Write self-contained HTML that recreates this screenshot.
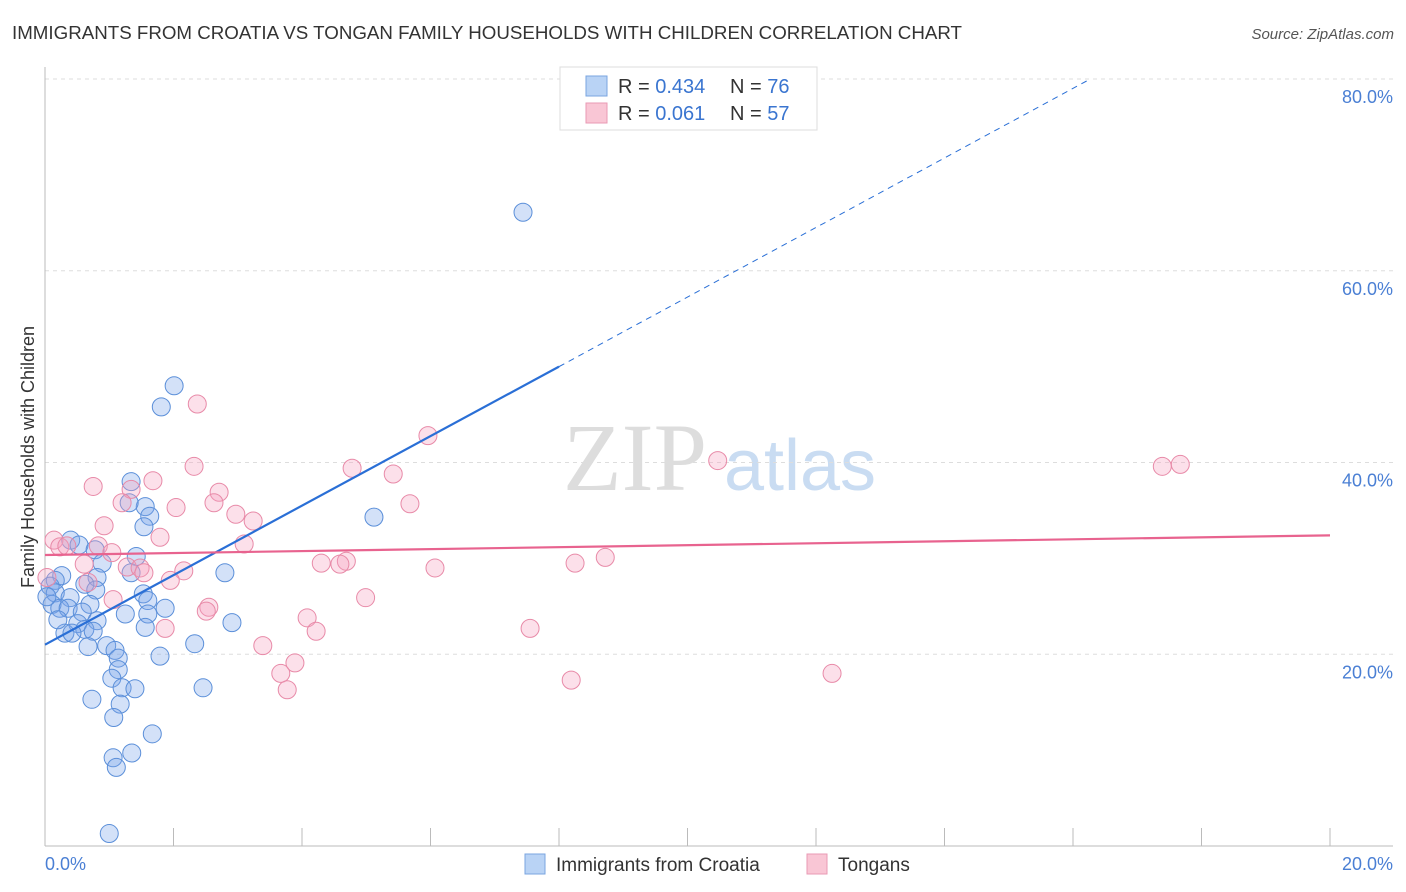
<!DOCTYPE html>
<html><head><meta charset="utf-8"><style>
body{margin:0;background:#fff;font-family:"Liberation Sans",sans-serif;}
svg{display:block}
</style></head><body>
<svg id="chart" width="1406" height="892" xmlns="http://www.w3.org/2000/svg">
<text x="12" y="39" font-size="18" fill="#333" textLength="950" lengthAdjust="spacingAndGlyphs">IMMIGRANTS FROM CROATIA VS TONGAN FAMILY HOUSEHOLDS WITH CHILDREN CORRELATION CHART</text>
<text x="1394" y="39" font-size="15" fill="#555" font-style="italic" text-anchor="end">Source: ZipAtlas.com</text>
<g>
<text x="635" y="490" font-size="96" font-family="Liberation Serif,serif" fill="#ddd" text-anchor="middle">ZIP</text>
<text x="800" y="490" font-size="72" fill="#c9dcf2" text-anchor="middle">atlas</text>
</g>
<g id="grid"></g>
<g id="axes"></g>
<g id="marks"></g>
<g id="lines"></g>
<text transform="translate(34,457) rotate(-90)" font-size="18" fill="#333" text-anchor="middle">Family Households with Children</text>
<text x="45" y="870" font-size="18" fill="#4a7fd4">0.0%</text>
<text x="1393" y="870" font-size="18" fill="#4a7fd4" text-anchor="end">20.0%</text>
<g>
<rect x="560" y="67" width="257" height="63" fill="#fff" stroke="#ddd"/>
<rect x="586" y="76" width="21" height="20" fill="#b9d3f5" stroke="#7aa5e0"/>
<rect x="586" y="103" width="21" height="20" fill="#f9c6d5" stroke="#e99ab4"/>
<text x="618" y="93" font-size="20" fill="#333">R = <tspan fill="#3a75d0">0.434</tspan></text>
<text x="730" y="93" font-size="20" fill="#333">N = <tspan fill="#3a75d0">76</tspan></text>
<text x="618" y="120" font-size="20" fill="#333">R = <tspan fill="#3a75d0"> 0.061</tspan></text>
<text x="730" y="120" font-size="20" fill="#333">N = <tspan fill="#3a75d0">57</tspan></text>
</g>
<g>
<rect x="525" y="854" width="20" height="20" fill="#b9d3f5" stroke="#7aa5e0"/>
<text x="556" y="871" font-size="19" fill="#333">Immigrants from Croatia</text>
<rect x="807" y="854" width="20" height="20" fill="#f9c6d5" stroke="#e99ab4"/>
<text x="838" y="871" font-size="19" fill="#333">Tongans</text>
</g>
</svg>
<script>
const yTicks=[20,40,60,80];
const xTicks=[0,2,4,6,8,10,12,14,16,18,20];
const blueX=[7.44,2.01,1.81,1.34,1.56,1.63,1.31,1.54,5.12,0.40,0.53,0.78,1.42,0.89,1.34,2.80,0.26,0.81,0.62,0.16,0.08,0.16,0.79,1.53,0.39,0.70,1.60,0.11,0.23,0.36,1.87,0.58,1.25,1.60,0.81,0.51,0.62,1.56,2.91,0.31,0.42,0.75,2.33,0.67,0.96,1.09,1.14,1.79,1.14,1.04,1.20,1.40,2.46,0.73,1.17,1.07,1.67,1.06,1.35,1.11,1.00,0.03,0.20];
const blueY=[66.1,48.0,45.8,38.0,35.4,34.4,35.8,33.3,34.3,31.9,31.4,30.9,30.2,29.5,28.5,28.5,28.2,28.0,27.3,27.7,27.1,26.4,26.7,26.3,25.9,25.2,25.6,25.2,24.8,24.8,24.8,24.4,24.2,24.2,23.5,23.2,22.6,22.8,23.3,22.2,22.2,22.4,21.1,20.8,20.9,20.4,19.6,19.8,18.4,17.5,16.5,16.4,16.5,15.3,14.8,13.4,11.7,9.2,9.7,8.2,1.3,26.0,23.6];
const pinkX=[2.37,5.96,10.47,17.39,17.67,2.32,4.78,5.42,1.68,0.75,2.71,1.34,1.20,2.63,2.04,5.68,2.97,3.24,0.92,1.79,0.14,0.23,0.34,0.83,3.10,1.04,8.72,0.61,1.28,1.48,4.30,4.69,4.59,8.25,6.07,1.54,2.16,1.95,0.03,0.67,4.99,1.06,2.55,2.51,4.08,4.22,7.55,1.87,3.39,3.89,3.67,12.25,8.19,3.77];
const pinkY=[46.1,42.8,40.2,39.6,39.8,39.6,39.4,38.8,38.1,37.5,36.9,37.2,35.8,35.8,35.3,35.7,34.6,33.9,33.4,32.2,31.9,31.2,31.3,31.3,31.5,30.6,30.1,29.4,29.1,29.0,29.5,29.7,29.4,29.5,29.0,28.5,28.7,27.7,28.0,27.5,25.9,25.7,24.9,24.5,23.8,22.4,22.7,22.7,20.9,19.1,18.0,18.0,17.3,16.3];
const blueTrendX=[0,8,16.27];
const blueTrendY=[21.0,50.0,80.0];
const pinkTrendX=[0,20];
const pinkTrendY=[30.35,32.4];

const NS='http://www.w3.org/2000/svg';
const sx=v=>45+v*64.25;
const sy=v=>846-v*9.5875;
function mk(tag,attrs,parent){const e=document.createElementNS(NS,tag);for(const k in attrs)e.setAttribute(k,attrs[k]);parent.appendChild(e);return e;}
const grid=document.getElementById('grid'),axes=document.getElementById('axes'),marks=document.getElementById('marks'),lines=document.getElementById('lines');
yTicks.forEach(t=>{
 const l=mk('line',{x1:45,x2:1393,y1:sy(t),y2:sy(t),stroke:'#ddd','stroke-dasharray':'4,4'},grid);
 
 
 const tx=mk('text',{x:1393,y:sy(t)+24,'font-size':18,fill:'#4a7fd4','text-anchor':'end'},grid);
 tx.textContent=t.toFixed(1)+'%';
 
 
});
const ya=mk('line',{x1:45,x2:45,y1:67,y2:846,stroke:'#bbb'},axes);


const xa=mk('line',{x1:45,x2:1393,y1:846,y2:846,stroke:'#bbb'},axes);


xTicks.forEach(t=>{
 const l=mk('line',{x1:sx(t),x2:sx(t),y1:828,y2:846,stroke:'#bbb'},axes);
 
 
});
blueX.forEach((x,i)=>{
 const c=mk('circle',{cx:sx(x),cy:sy(blueY[i]),r:9,fill:'rgba(120,165,235,0.33)',stroke:'#5b8fd9','stroke-width':1},marks);
 
 
});
pinkX.forEach((x,i)=>{
 const c=mk('circle',{cx:sx(x),cy:sy(pinkY[i]),r:9,fill:'rgba(245,160,190,0.33)',stroke:'#e88aa8','stroke-width':1},marks);
 
 
});
const bs=mk('line',{x1:sx(blueTrendX[0]),y1:sy(blueTrendY[0]),x2:sx(blueTrendX[1]),y2:sy(blueTrendY[1]),stroke:'#2a6fd6','stroke-width':2.2},lines);


const bd=mk('line',{x1:sx(blueTrendX[1]),y1:sy(blueTrendY[1]),x2:sx(blueTrendX[2]),y2:sy(blueTrendY[2]),stroke:'#2a6fd6','stroke-width':1,'stroke-dasharray':'6,5'},lines);


const pl=mk('line',{x1:sx(pinkTrendX[0]),y1:sy(pinkTrendY[0]),x2:sx(pinkTrendX[1]),y2:sy(pinkTrendY[1]),stroke:'#e8638f','stroke-width':2.2},lines);


</script>
</body></html>
